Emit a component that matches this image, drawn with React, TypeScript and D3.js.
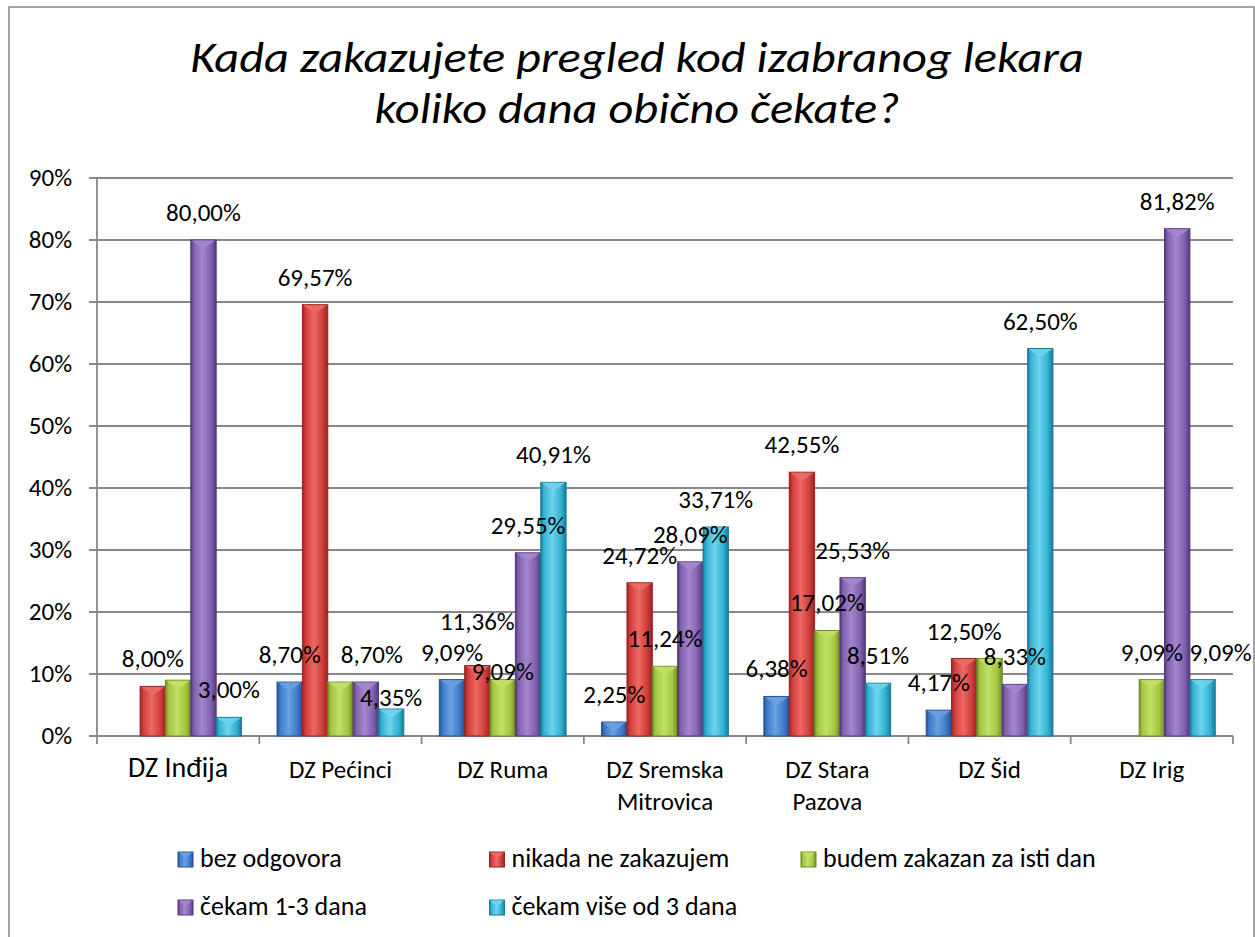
import React from 'react';
import * as d3 from 'd3';

// health centres on the x axis (second line where the label wraps)
const categories = [
  'DZ Inđija',
  'DZ Pećinci',
  'DZ Ruma',
  'DZ Sremska Mitrovica',
  'DZ Stara Pazova',
  'DZ Šid',
  'DZ Irig',
];
const categoryLines = [
  ['DZ Inđija'],
  ['DZ Pećinci'],
  ['DZ Ruma'],
  ['DZ Sremska', 'Mitrovica'],
  ['DZ Stara', 'Pazova'],
  ['DZ Šid'],
  ['DZ Irig'],
];

const seriesNames = [
  'bez odgovora',
  'nikada ne zakazujem',
  'budem zakazan za isti dan',
  'čekam 1-3 dana',
  'čekam više od 3 dana',
];

// percent per category, null = no bar
const bezOdgovora = [null, 8.70, 9.09, 2.25, 6.38, 4.17, null];
const nikadaNeZakazujem = [8.00, 69.57, 11.36, 24.72, 42.55, 12.50, null];
const istiDan = [9.00, 8.70, 9.09, 11.24, 17.02, 12.50, 9.09];
const cekam13 = [80.00, 8.70, 29.55, 28.09, 25.53, 8.33, 81.82];
const cekamVise = [3.00, 4.35, 40.91, 33.71, 8.51, 62.50, 9.09];

const seriesValues = [bezOdgovora, nikadaNeZakazujem, istiDan, cekam13, cekamVise];

const yTicks = [0, 10, 20, 30, 40, 50, 60, 70, 80, 90];

// labels that the original sheet had removed, and a few moved by hand
const hiddenLabels = ['DZ Inđija|2', 'DZ Pećinci|2', 'DZ Šid|2'];
const labelNudge: Record<string, [number, number]> = {
  'DZ Pećinci|3': [6, 0],
  'DZ Pećinci|4': [0, 16],
  'DZ Ruma|1': [0, -17],
  'DZ Ruma|2': [0, 19],
  'DZ Irig|4': [18, 0],
};

// light / mid / dark for the bevelled bars
const palette = [
  ['#6aa0e0', '#3b7acb', '#24528f'],
  ['#ec6a66', '#d13c3a', '#962523'],
  ['#c2e067', '#a3c540', '#6f8c24'],
  ['#a486cc', '#8060ae', '#52397a'],
  ['#6fd3ec', '#31b2d2', '#1a7c97'],
];

const W = 1255;
const H = 937;
const font = "Carlito, Calibri, 'Open Sans', sans-serif";
const fmt = (v: number) => v.toFixed(2).replace('.', ',') + '%';

const App = () => {
  const x0 = d3.scaleBand<string>().domain(categories).range([97, 1233]).paddingInner(0).paddingOuter(0);
  const x1 = d3.scaleBand<number>()
    .domain(d3.range(seriesNames.length))
    .range([0, x0.bandwidth()])
    .paddingInner(0)
    .paddingOuter(0.7);
  const y = d3.scaleLinear().domain([0, 90]).range([736, 178]);

  const bars: any[] = [];
  categories.forEach((c, ci) => {
    seriesValues.forEach((vals, si) => {
      const v = vals[ci];
      if (v === null || v === undefined) return;
      bars.push({ c, si, v, x: (x0(c) as number) + (x1(si) as number), y: y(v) });
    });
  });

  const bw = x1.bandwidth();
  const bevel = Math.min(9, bw * 0.35);

  return (
    <svg width={W} height={H} style={{ position: 'absolute', left: 0, top: 0, background: '#fff' }}>
      <defs>
        {palette.map((p, i) => (
          <linearGradient key={i} id={`g${i}`} x1="0" x2="1" y1="0" y2="0">
            <stop offset="0%" stopColor={p[2]} />
            <stop offset="12%" stopColor={p[1]} />
            <stop offset="45%" stopColor={p[0]} />
            <stop offset="80%" stopColor={p[1]} />
            <stop offset="100%" stopColor={p[2]} />
          </linearGradient>
        ))}
      </defs>

      {/* outer chart border */}
      <rect x={9} y={7} width={1245} height={940} fill="none" stroke="#868686" strokeWidth={1.5} />

      {/* title, slightly widened like the original */}
      <g transform="translate(637,0) scale(1.1,1)" fontFamily={font} fontStyle="italic" fontSize={44} textAnchor="middle" fill="#000">
        <text x={0} y={72}>Kada zakazujete pregled kod izabranog lekara</text>
        <text x={0} y={123}>koliko dana obično čekate?</text>
      </g>

      {/* grid + y axis */}
      <g>
        {yTicks.map((t) => (
          <g key={t}>
            <line x1={89} x2={1233} y1={y(t)} y2={y(t)} stroke="#888" strokeWidth={1.8} />
            <text x={72} y={y(t) + 7.5} textAnchor="end" fontFamily={font} fontSize={25}>{t}%</text>
          </g>
        ))}
        <line x1={97} x2={97} y1={y(90)} y2={y(0)} stroke="#888" strokeWidth={1.8} />
        {categories.map((c) => (
          <line key={c} x1={x0(c) as number} x2={x0(c) as number} y1={y(0)} y2={y(0) + 8} stroke="#888" strokeWidth={1.8} />
        ))}
        <line x1={1233} x2={1233} y1={y(0)} y2={y(0) + 8} stroke="#888" strokeWidth={1.8} />
      </g>

      {/* bars */}
      <g>
        {bars.map((b) => {
          const p = palette[b.si];
          const h = y(0) - b.y;
          const bv = Math.min(bevel, h);
          return (
            <g key={b.c + b.si}>
              <rect x={b.x} y={b.y} width={bw} height={h} fill={`url(#g${b.si})`} stroke={p[2]} strokeWidth={1} />
              <polygon
                points={`${b.x + 1},${b.y + 0.5} ${b.x + bw - 1},${b.y + 0.5} ${b.x + bw / 2},${b.y + bv}`}
                fill={p[0]}
                opacity={0.9}
              />
            </g>
          );
        })}
      </g>

      {/* data labels */}
      <g fontFamily={font} fontSize={25} textAnchor="middle" fill="#000">
        {bars
          .filter((b) => !hiddenLabels.includes(`${b.c}|${b.si}`))
          .map((b) => {
            const n = labelNudge[`${b.c}|${b.si}`] || [0, 0];
            return (
              <text key={b.c + b.si} x={b.x + bw / 2 + n[0]} y={b.y - 19 + n[1]}>{fmt(b.v)}</text>
            );
          })}
      </g>

      {/* category labels */}
      <g fontFamily={font} textAnchor="middle" fill="#000">
        {categories.map((c, ci) => (
          <text key={c} x={(x0(c) as number) + x0.bandwidth() / 2} y={ci === 0 ? 777 : 778} fontSize={ci === 0 ? 28 : 25}>
            {categoryLines[ci].map((line, li) => (
              <tspan key={li} x={(x0(c) as number) + x0.bandwidth() / 2} dy={li === 0 ? 0 : 32}>{line}</tspan>
            ))}
          </text>
        ))}
      </g>

      {/* legend */}
      <g fontFamily={font} fontSize={26} fill="#000">
        {seriesNames.map((s, si) => {
          const lx = 178 + (si % 3) * 311.5;
          const ly = 867 + Math.floor(si / 3) * 48;
          const p = palette[si];
          return (
            <g key={s}>
              <rect x={lx} y={ly - 15} width={15} height={15} fill={`url(#g${si})`} stroke={p[2]} strokeWidth={1} />
              <polygon points={`${lx + 1},${ly - 14.5} ${lx + 14},${ly - 14.5} ${lx + 7.5},${ly - 8}`} fill={p[0]} />
              <text x={lx + 22} y={ly}>{s}</text>
            </g>
          );
        })}
      </g>
    </svg>
  );
};

export default App;
